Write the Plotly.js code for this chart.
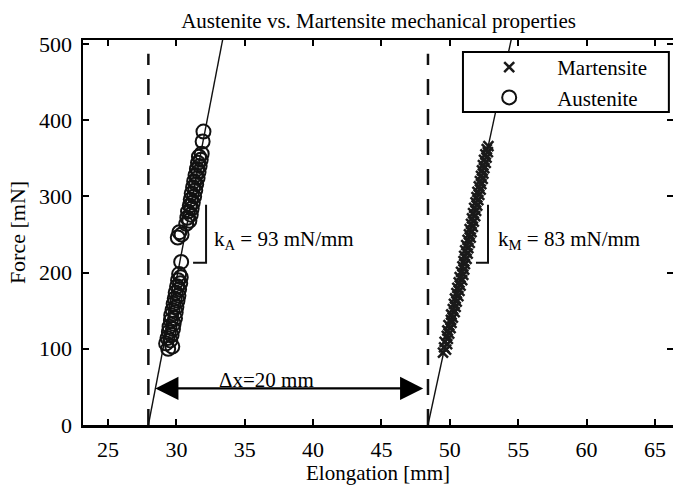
<!DOCTYPE html>
<html>
<head>
<meta charset="utf-8">
<script src="https://cdn.plot.ly/plotly-3.0.1.min.js"></script>
<style>html,body{margin:0;padding:0;background:#fff;}#chart{width:673px;height:485px;}</style>
</head>
<body>
<div id="chart"></div>
<script>
// Martensite measurements (force in mN, elongation in mm)
const martF = [95,99,102,106,109,113,117,120,124,127,131,134,138,141,145,148,152,155,159,162,166,169,173,176,180,183,187,190,194,197,201,204,208,211,215,218,222,225,229,232,236,239,243,246,250,253,257,260,264,267,271,274,278,281,285,288,292,295,299,302,306,309,313,316,320,323,327,330,334,337,341,344,348,351,355,358,362,366];
const martX = [49.50,49.72,49.58,49.80,49.62,49.85,49.78,49.95,49.82,50.05,49.90,50.12,50.08,50.22,50.10,50.35,50.22,50.42,50.30,50.50,50.38,50.62,50.48,50.70,50.55,50.78,50.65,50.90,50.72,50.98,50.82,51.05,50.92,51.10,51.00,51.22,51.05,51.30,51.12,51.35,51.20,51.45,51.30,51.52,51.40,51.58,51.45,51.68,51.55,51.75,51.62,51.85,51.70,51.92,51.78,52.00,51.88,52.08,51.95,52.15,52.02,52.25,52.12,52.30,52.20,52.40,52.28,52.45,52.35,52.52,52.42,52.62,52.50,52.68,52.60,52.78,52.70,52.82];

// Austenite measurements
const austF = [100,103,107,111,114,118,122,126,129,133,137,140,144,148,151,155,159,163,166,170,174,178,182,186,190,194,198,214,246,250,253,264,268,272,276,280,284,288,292,296,300,304,308,312,316,320,324,328,332,336,340,344,348,352,356,372,385];
const austX = [29.40,29.70,29.25,29.55,29.35,29.65,29.45,29.75,29.50,29.80,29.60,29.90,29.62,29.95,29.72,30.00,29.80,30.08,29.88,30.15,29.95,30.20,30.05,30.28,30.12,30.32,30.20,30.35,30.10,30.38,30.22,30.72,30.95,30.80,31.05,30.85,31.12,30.98,31.20,31.05,31.30,31.12,31.38,31.22,31.45,31.30,31.55,31.40,31.62,31.50,31.70,31.58,31.78,31.65,31.85,31.92,31.98];

// Linear fits (k_A = 93 mN/mm, k_M = 83 mN/mm)
const fitAX = [27.95, 33.43];
const fitAY = [0, 510];
const fitMX = [48.4, 54.54];
const fitMY = [0, 510];

// Zero-force reference positions (dashed)
const refAX = [27.95, 27.95];
const refMX = [48.4, 48.4];
const refY = [0, 487];

// Stiffness brackets
const brAX = [31.22, 32.17, 32.17];
const brAY = [213, 213, 289];
const brMX = [51.91, 52.79, 52.79];
const brMY = [213, 213, 289];

const xTicks = [25,30,35,40,45,50,55,60,65];
const yTicks = [0,100,200,300,400,500];

const FONT = 'Liberation Serif, Times New Roman, serif';

const lineStyle = {color:'#111', width:1.4};
const dashStyle = {color:'#111', width:2.5, dash:'16px,14px'};
const brStyle = {color:'#111', width:2};

const traces = [
  {x:fitAX, y:fitAY, mode:'lines', line:lineStyle, showlegend:false, hoverinfo:'skip'},
  {x:fitMX, y:fitMY, mode:'lines', line:lineStyle, showlegend:false, hoverinfo:'skip'},
  {x:refAX, y:refY, mode:'lines', line:dashStyle, showlegend:false, hoverinfo:'skip'},
  {x:refMX, y:refY, mode:'lines', line:dashStyle, showlegend:false, hoverinfo:'skip'},
  {x:brAX, y:brAY, mode:'lines', line:brStyle, showlegend:false, hoverinfo:'skip'},
  {x:brMX, y:brMY, mode:'lines', line:brStyle, showlegend:false, hoverinfo:'skip'},
  {name:'Martensite', x:martX, y:martF, mode:'markers',
   marker:{symbol:'x-thin', size:10, line:{color:'#1a1a1a', width:2.5}, color:'#1a1a1a'}},
  {name:'Austenite', x:austX, y:austF, mode:'markers',
   marker:{symbol:'circle-open', size:14, line:{color:'#111', width:2}, color:'#111'}}
];

const layout = {
  width:673, height:485,
  margin:{l:83, r:0, t:40, b:60},
  paper_bgcolor:'#fff', plot_bgcolor:'#fff',
  font:{family:FONT, size:21, color:'#000'},
  title:{text:'Austenite vs. Martensite mechanical properties', font:{family:FONT, size:21, color:'#000'},
         x:0.5625, xanchor:'center', y:0.957, yanchor:'middle'},
  xaxis:{range:[23.17, 66.32], tickvals:xTicks, ticks:'inside', ticklen:6, tickwidth:2, tickcolor:'#000',
         showline:true, linewidth:2.5, linecolor:'#000', mirror:'ticks', showgrid:false, zeroline:false,
         tickfont:{family:FONT, size:22, color:'#000'}, ticklabelstandoff:3,
         title:{text:'Elongation [mm]', font:{family:FONT, size:21, color:'#000'}, standoff:1}},
  yaxis:{range:[0, 505.2], tickvals:yTicks, ticks:'inside', ticklen:6, tickwidth:2, tickcolor:'#000',
         showline:true, linewidth:2.5, linecolor:'#000', mirror:'ticks', showgrid:false, zeroline:false,
         tickfont:{family:FONT, size:22, color:'#000'}, ticklabelstandoff:4,
         title:{text:'Force [mN]', font:{family:FONT, size:22, color:'#000'}, standoff:8}},
  legend:{x:0.641, y:0.982, xanchor:'left', yanchor:'top', bgcolor:'rgba(0,0,0,0)', borderwidth:0,
          font:{family:FONT, size:21, color:'#000'}, itemwidth:86, tracegroupgap:0},
  shapes:[
    {type:'rect', xref:'paper', yref:'paper', x0:0.644, x1:0.993, y0:0.813, y1:0.969,
     line:{color:'#000', width:2}, fillcolor:'#fff', layer:'above'}
  ],
  annotations:[
    {x:48.05, y:48, ax:28.35, ay:48, axref:'x', ayref:'y', xref:'x', yref:'y', text:'', showarrow:true,
     arrowhead:2, startarrowhead:2, arrowside:'end+start', arrowsize:2.1, arrowwidth:2.2, arrowcolor:'#000',
     standoff:0, startstandoff:0},
    {x:36.6, y:59, xref:'x', yref:'y', text:'\u0394x=20 mm', showarrow:false, font:{family:FONT, size:21, color:'#000'}},
    {x:32.6, y:243, xref:'x', yref:'y', text:'k<sub>A</sub> = 93 mN/mm', showarrow:false, xanchor:'left',
     font:{family:FONT, size:21, color:'#000'}},
    {x:53.35, y:243, xref:'x', yref:'y', text:'k<sub>M</sub> = 83 mN/mm', showarrow:false, xanchor:'left',
     font:{family:FONT, size:21, color:'#000'}}
  ],
  showlegend:true
};

Plotly.newPlot('chart', traces, layout, {displayModeBar:false, staticPlot:true});
</script>
</body>
</html>
